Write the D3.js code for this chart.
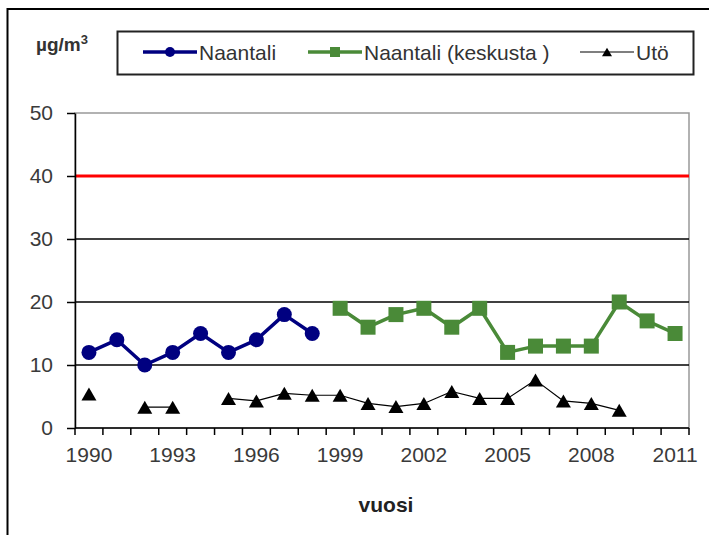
<!DOCTYPE html>
<html>
<head>
<meta charset="utf-8">
<script src="https://cdn.jsdelivr.net/npm/d3@7"></script>
<style>
  html, body { margin: 0; padding: 0; background: #fff; }
  svg { display: block; font-family: "Liberation Sans", Arial, sans-serif; }
</style>
</head>
<body>
<svg id="chart" width="709" height="535"></svg>
<script>
// Annual mean concentrations (µg/m³)
const years = d3.range(1990, 2012);
const naantali = [12, 14, 10, 12, 15, 12, 14, 18, 15, null, null, null, null, null, null, null, null, null, null, null, null, null];
const naantaliKeskusta = [null, null, null, null, null, null, null, null, null, 19, 16, 18, 19, 16, 19, 12, 13, 13, 13, 20, 17, 15];
const uto = [5.4, null, 3.3, 3.3, null, 4.7, 4.3, 5.5, 5.2, 5.2, 3.9, 3.4, 3.9, 5.8, 4.7, 4.7, 7.6, 4.3, 3.9, 2.8, null, null];
const limitValue = 40;
const yTicks = [0, 10, 20, 30, 40, 50];
const xLabelYears = [1990, 1993, 1996, 1999, 2002, 2005, 2008, 2011];

const svg = d3.select("#chart");
const plotLeft = 75, plotRight = 689, plotTop = 113, plotBottom = 428;

const x = d3.scaleBand().domain(years).range([plotLeft, plotRight]).padding(0);
const y = d3.scaleLinear().domain([0, 50]).range([plotBottom, plotTop]);
const cx = d => x(d) + x.bandwidth() / 2;

// outer chart frame
svg.append("rect")
  .attr("x", 7.5).attr("y", 9).attr("width", 800).attr("height", 600)
  .attr("fill", "none").attr("stroke", "#000").attr("stroke-width", 2);

// plot area border (grey)
svg.append("rect")
  .attr("x", plotLeft).attr("y", y(50)).attr("width", plotRight - plotLeft).attr("height", y(0) - y(50))
  .attr("fill", "none").attr("stroke", "#999").attr("stroke-width", 1.5);

// horizontal gridlines
svg.append("g").selectAll("line")
  .data(yTicks.filter(t => t > 0 && t < 50 && t !== limitValue))
  .join("line")
  .attr("x1", plotLeft).attr("x2", plotRight)
  .attr("y1", d => y(d)).attr("y2", d => y(d))
  .attr("stroke", "#000").attr("stroke-width", 1.3);

// limit value line
svg.append("line")
  .attr("x1", plotLeft).attr("x2", plotRight)
  .attr("y1", y(limitValue)).attr("y2", y(limitValue))
  .attr("stroke", "#ff0000").attr("stroke-width", 3);

// y axis
const yAxis = svg.append("g")
  .attr("transform", `translate(${plotLeft},0)`)
  .call(d3.axisLeft(y).tickValues(yTicks).tickSize(8).tickPadding(14).tickSizeOuter(0));
yAxis.select(".domain").attr("stroke", "#000").attr("stroke-width", 1.5);
yAxis.selectAll(".tick line").attr("stroke", "#000").attr("stroke-width", 1.5);
yAxis.selectAll(".tick text").attr("fill", "#3a3a3a").style("font-size", "21px").attr("font-family", null);

// x axis: ticks between categories, labels every third year
const xAxisG = svg.append("g").attr("transform", `translate(0,${y(0)})`);
xAxisG.append("line")
  .attr("x1", plotLeft).attr("x2", plotRight).attr("y1", 0).attr("y2", 0)
  .attr("stroke", "#000").attr("stroke-width", 1.5);
xAxisG.selectAll("line.tk")
  .data(years.map(d => x(d)).concat([plotRight]))
  .join("line").attr("class", "tk")
  .attr("x1", d => d).attr("x2", d => d).attr("y1", 0).attr("y2", 7)
  .attr("stroke", "#000").attr("stroke-width", 1.5);
xAxisG.selectAll("text")
  .data(xLabelYears)
  .join("text")
  .attr("x", d => cx(d))
  .attr("y", 34)
  .attr("text-anchor", "middle")
  .attr("fill", "#3a3a3a")
  .style("font-size", "21px")
  .text(d => d);

// axis title
svg.append("text")
  .attr("x", (plotLeft + plotRight) / 2 + 4)
  .attr("y", 512)
  .attr("text-anchor", "middle")
  .attr("font-weight", "bold")
  .attr("fill", "#222")
  .style("font-size", "21px")
  .text("vuosi");

// unit label
const unit = svg.append("text")
  .attr("x", 36).attr("y", 51)
  .attr("font-weight", "bold")
  .attr("fill", "#333")
  .style("font-size", "19px");
unit.append("tspan").text("µg/m");
unit.append("tspan").attr("dy", -7).style("font-size", "13px").text("3");

// marker shapes
const triPath = s => {
  const h = s * Math.sqrt(3) / 2;
  return `M0,${-h / 2}L${s / 2},${h / 2}L${-s / 2},${h / 2}Z`;
};

const seriesDefs = [
  { name: "Naantali", values: naantali, color: "#000080", width: 3.5, marker: "circle" },
  { name: "Naantali (keskusta )", values: naantaliKeskusta, color: "#4a8a38", width: 3.5, marker: "square" },
  { name: "Utö", values: uto, color: "#000", width: 1.2, marker: "triangle" }
];

function drawMarker(g, type, color, big) {
  if (type === "circle") {
    g.append("circle").attr("r", big ? 7.5 : 5).attr("fill", color);
  } else if (type === "square") {
    const s = big ? 15 : 10;
    g.append("rect").attr("x", -s / 2).attr("y", -s / 2).attr("width", s).attr("height", s).attr("fill", color);
  } else {
    g.append("path").attr("d", triPath(big ? 15 : 10)).attr("fill", color);
  }
}

const line = d3.line()
  .defined(d => d.v != null)
  .x(d => cx(d.year))
  .y(d => y(d.v));

seriesDefs.forEach(s => {
  const pts = years.map((yr, i) => ({ year: yr, v: s.values[i] }));
  svg.append("path")
    .datum(pts)
    .attr("d", line)
    .attr("fill", "none")
    .attr("stroke", s.color)
    .attr("stroke-width", s.width)
    .attr("stroke-linejoin", "round");
  svg.append("g").selectAll("g")
    .data(pts.filter(d => d.v != null))
    .join("g")
    .attr("transform", d => `translate(${cx(d.year)},${y(d.v)})`)
    .each(function () { drawMarker(d3.select(this), s.marker, s.color, true); });
});

// legend
const legend = svg.append("g");
legend.append("rect")
  .attr("x", 117.5).attr("y", 31.5).attr("width", 576).attr("height", 43)
  .attr("fill", "#fff").attr("stroke", "#222").attr("stroke-width", 2);
const legendX = [143, 308, 580];
seriesDefs.forEach((s, i) => {
  const g = legend.append("g").attr("transform", `translate(${legendX[i]},52)`);
  g.append("line").attr("x1", 0).attr("x2", 54).attr("y1", 0).attr("y2", 0)
    .attr("stroke", s.color).attr("stroke-width", s.width);
  const m = g.append("g").attr("transform", "translate(27,0)");
  drawMarker(m, s.marker, s.color, false);
  g.append("text").attr("x", 56).attr("y", 7.5)
    .attr("fill", "#333").style("font-size", "21px")
    .text(s.name);
});
</script>
</body>
</html>
